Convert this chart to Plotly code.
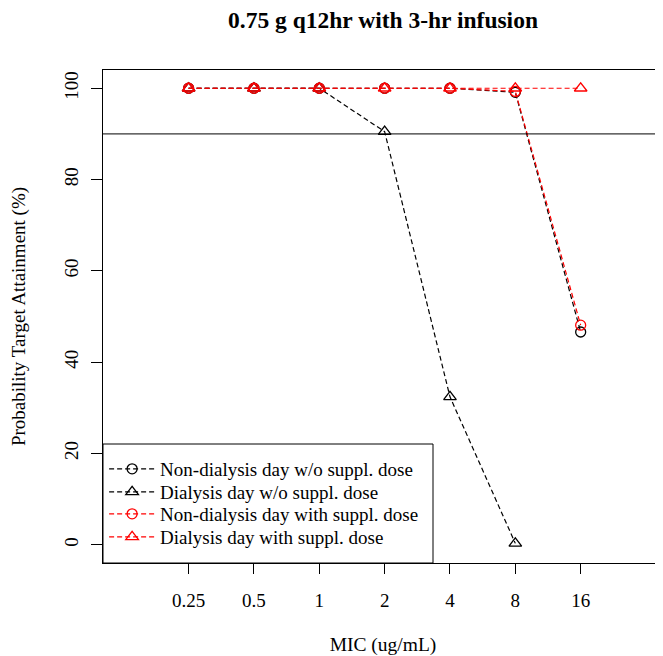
import plotly.graph_objects as go

mic_labels = ["0.25", "0.5", "1", "2", "4", "8", "16"]
mic_index = [1, 2, 3, 4, 5, 6, 7]

nondialysis_wo = [100, 100, 100, 100, 100, 99.1, 46.6]
dialysis_wo = [100, 100, 100, 90.5, 32.4, 0.3, None]
nondialysis_with = [100, 100, 100, 100, 100, 99.3, 48.1]
dialysis_with = [100, 100, 100, 100, 100, 100, 100]

target_line = 90

series = [
    ("Non-dialysis day w/o suppl. dose", nondialysis_wo, "black", "circle-open", 10),
    ("Dialysis day w/o suppl. dose", dialysis_wo, "black", "triangle-up-open", 11),
    ("Non-dialysis day with suppl. dose", nondialysis_with, "red", "circle-open", 10),
    ("Dialysis day with suppl. dose", dialysis_with, "red", "triangle-up-open", 11),
]

FONT = "Liberation Serif"
FS = 19

# page offset from default body margin (8px)
W, H = 655, 648
PL, PT, PB = 95, 62, 93

fig = go.Figure()
legend_ys = [469, 492, 514, 537]  # page pixel centres
legend_names = ["legend", "legend2", "legend3", "legend4"]
for (name, vals, color, sym, sz), lg in zip(series, legend_names):
    fig.add_trace(go.Scatter(
        x=mic_index, y=vals, name=name, mode="lines+markers",
        line=dict(color=color, width=1.2, dash="5px,3px"),
        marker=dict(symbol=sym, size=sz, color=color, line=dict(color=color, width=1.3)),
        connectgaps=False, legend=lg,
    ))

fig.add_hline(y=target_line, line=dict(color="black", width=1))

# legend box
fig.add_shape(type="rect", xref="paper", yref="paper",
              x0=0, x1=(433 - 103) / 560, y0=0, y1=(563 - 444) / 493,
              line=dict(color="black", width=1), fillcolor="white", layer="below")

legend_layout = {}
for lg, yy in zip(legend_names, legend_ys):
    legend_layout[lg] = dict(
        x=0.002, y=(563 - yy) / 493, xanchor="left", yanchor="middle",
        bgcolor="rgba(0,0,0,0)", borderwidth=0, font=dict(family=FONT, size=FS),
        itemwidth=46,
    )

fig.update_layout(
    width=W, height=H,
    margin=dict(l=PL, r=0, t=PT, b=PB, pad=0),
    paper_bgcolor="white", plot_bgcolor="white",
    font=dict(family=FONT, size=FS, color="black"),
    title=dict(text="<b>0.75 g q12hr with 3-hr infusion</b>", x=375 / W, xanchor="center",
               y=1 - 12 / H, yanchor="middle", font=dict(family=FONT, size=23.5)),
    showlegend=True,
    xaxis=dict(
        range=[-0.31, 8.26], tickmode="array", tickvals=mic_index, ticktext=mic_labels,
        showgrid=False, zeroline=False, showline=True, linecolor="black", linewidth=1,
        mirror=True, ticks="outside", ticklen=10, tickcolor="black", ticklabelstandoff=10,
        title=dict(text="MIC (ug/mL)", standoff=28, font=dict(size=19.5)),
        tickfont=dict(size=FS),
    ),
    yaxis=dict(
        range=[-4, 104], tickvals=[0, 20, 40, 60, 80, 100],
        showgrid=False, zeroline=False, showline=True, linecolor="black", linewidth=1,
        ticks="outside", ticklen=11, tickcolor="black", tickangle=-90, ticklabelstandoff=5,
        title=dict(text="Probability Target Attainment (%)", standoff=33, font=dict(size=FS)),
        tickfont=dict(size=FS),
    ),
    **legend_layout,
)

fig.write_html("out.html")
